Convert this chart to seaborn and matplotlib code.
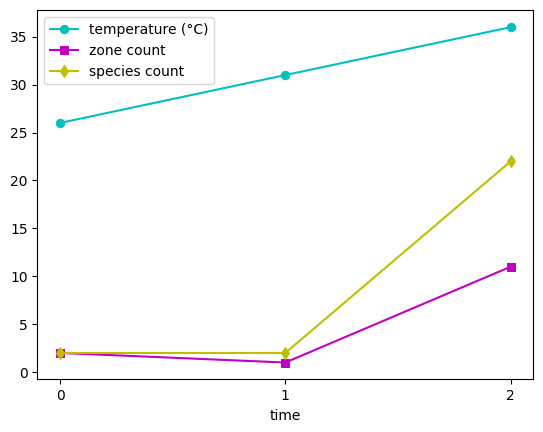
import matplotlib
matplotlib.use("Agg")
import matplotlib.pyplot as plt
import seaborn as sns
import pandas as pd

time = [0, 1, 2]
temperature = [26, 31, 36]
zone_count = [2, 1, 11]
species_count = [2, 2, 22]

fig = plt.figure(figsize=(5.43, 4.32), dpi=100)
ax = fig.add_axes([0.069, 0.122, 0.913, 0.854])

series = [
    ("temperature (°C)", temperature, "c", "o"),
    ("zone count", zone_count, "m", "s"),
    ("species count", species_count, "y", "d"),
]
for label, vals, color, marker in series:
    df = pd.DataFrame({"time": time, "value": vals})
    sns.lineplot(data=df, x="time", y="value", ax=ax, color=color, marker=marker,
                 markersize=6, markeredgecolor=color, label=label)

ax.set_xticks(time)
ax.set_xlabel("time")
ax.set_ylabel("")
ax.legend(loc="upper left")
fig.savefig("out.png", dpi=100)
